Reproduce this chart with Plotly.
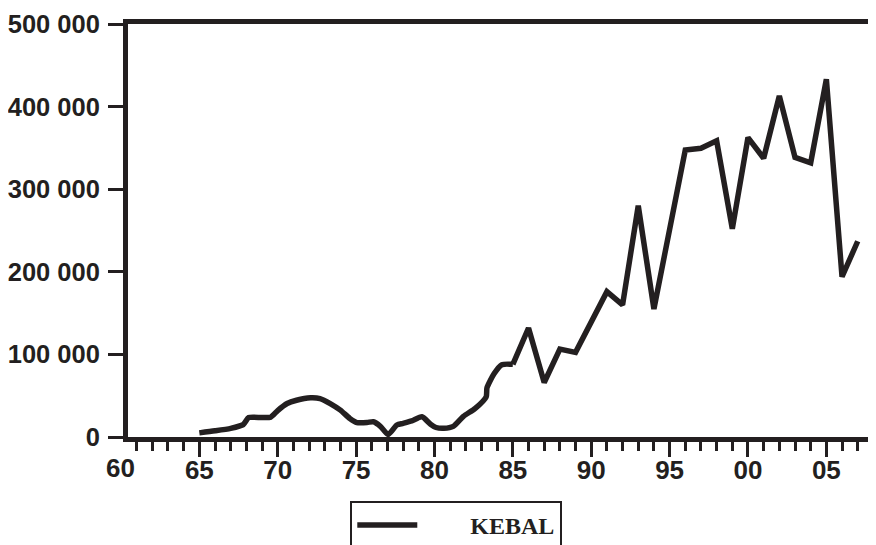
import plotly.graph_objects as go

# ---- data ----
years = [1965.0, 1966.0, 1967.0, 1967.8, 1968.15, 1969.0, 1969.55, 1970.0, 1970.6, 1971.2,
         1972.1, 1972.7, 1973.35, 1974.0, 1974.6, 1975.05, 1975.7, 1976.1, 1976.55, 1977.05,
         1977.6, 1978.0, 1978.55, 1979.2, 1979.75, 1980.1, 1980.6, 1981.2, 1981.85, 1982.6,
         1983.3, 1983.35, 1983.8, 1984.3, 1985.0,
         1986.0, 1987.0, 1988.0, 1989.0, 1990.0, 1991.0, 1992.0, 1993.0, 1994.0, 1995.0,
         1996.0, 1997.0, 1998.0, 1999.0, 2000.0, 2001.0, 2002.0, 2003.0, 2004.0, 2005.0,
         2006.0, 2007.0]
values = [5000, 7500, 10500, 15000, 23500, 23500, 24000, 32000, 40500, 44500,
          47500, 46500, 40500, 32500, 22500, 17500, 17500, 18500, 13000, 3000,
          14500, 16500, 19500, 24500, 15500, 11500, 10500, 12800, 25000, 34700,
          48700, 59500, 76500, 87500, 88000,
          132000, 66000, 106500, 102500, 139000, 176000, 160000, 280000, 155000, 250000,
          347500, 349500, 358500, 252000, 362500, 337500, 413000, 338500, 332000, 433000,
          194000, 237000]
series_name = "KEBAL"

x_range = [1960.45, 2007.72]
x_tick_vals = [1965, 1970, 1975, 1980, 1985, 1990, 1995, 2000, 2005]
x_tick_text = ["65", "70", "75", "80", "85", "90", "95", "00", "05"]
x_first_label_val = 1960
x_first_label = "60"
x_minor_vals = list(range(1961, 2008))
y_range = [0, 500000]
y_tick_vals = [0, 100000, 200000, 300000, 400000, 500000]
y_tick_text = ["0", "100 000", "200 000", "300 000", "400 000", "500 000"]

INK = "#231f20"
SANS = "Liberation Sans"
SERIF = "Liberation Serif"

split = years.index(1985.0)

fig = go.Figure()
# smooth early part
fig.add_trace(go.Scatter(
    x=years[:split + 1], y=values[:split + 1], mode="lines",
    line=dict(color=INK, width=5.5, shape="spline", smoothing=0.6),
    showlegend=False, hoverinfo="skip"))
# angular later part
fig.add_trace(go.Scatter(
    x=years[split:], y=values[split:], mode="lines",
    line=dict(color=INK, width=5.5),
    name="\u00a0" * 8 + series_name, showlegend=True))

# page body has an 8px offset; figure sized to fit the window
W, H = 868, 537
ML, MR, MT, MB = 119.5, 6.8, 15.5, 108
plot_w = W - ML - MR
plot_h = H - MT - MB
first_label_frac = (x_first_label_val - x_range[0]) / (x_range[1] - x_range[0])

fig.update_layout(
    width=W, height=H,
    margin=dict(l=ML, r=MR, t=MT, b=MB, pad=0, autoexpand=False),
    paper_bgcolor="white", plot_bgcolor="white",
    showlegend=True,
    legend=dict(
        x=(342 - ML) / plot_w, y=-(493 - (H - MB)) / plot_h,
        xanchor="left", yanchor="top",
        bordercolor=INK, borderwidth=2, bgcolor="white",
        font=dict(family=SERIF, size=24, color=INK, weight="bold"),
        itemwidth=60,
    ),
    xaxis=dict(
        range=x_range, automargin=False,
        showline=True, linewidth=5, linecolor=INK, mirror=True,
        showgrid=False, zeroline=False,
        tickmode="array", tickvals=x_tick_vals, ticktext=x_tick_text,
        ticks="outside", ticklen=15, tickwidth=3, tickcolor=INK,
        ticklabelstandoff=-9,
        tickfont=dict(family=SANS, size=26, color=INK, weight="bold"),
        minor=dict(tickmode="array", tickvals=x_minor_vals, ticks="outside",
                   ticklen=9, tickwidth=3, tickcolor=INK, showgrid=False),
    ),
    yaxis=dict(
        range=y_range, automargin=False,
        showline=True, linewidth=5, linecolor=INK, mirror=True,
        showgrid=False, zeroline=False,
        tickmode="array", tickvals=y_tick_vals, ticktext=y_tick_text,
        ticks="outside", ticklen=15, tickwidth=3, tickcolor=INK,
        ticklabelstandoff=3,
        tickfont=dict(family=SANS, size=25.5, color=INK, weight="bold"),
    ),
    annotations=[dict(
        x=first_label_frac, y=0, xref="paper", yref="paper",
        xanchor="center", yanchor="top", yshift=-14, showarrow=False,
        text=x_first_label,
        font=dict(family=SANS, size=26, color=INK, weight="bold"))],
)

fig.write_html("out.html")
